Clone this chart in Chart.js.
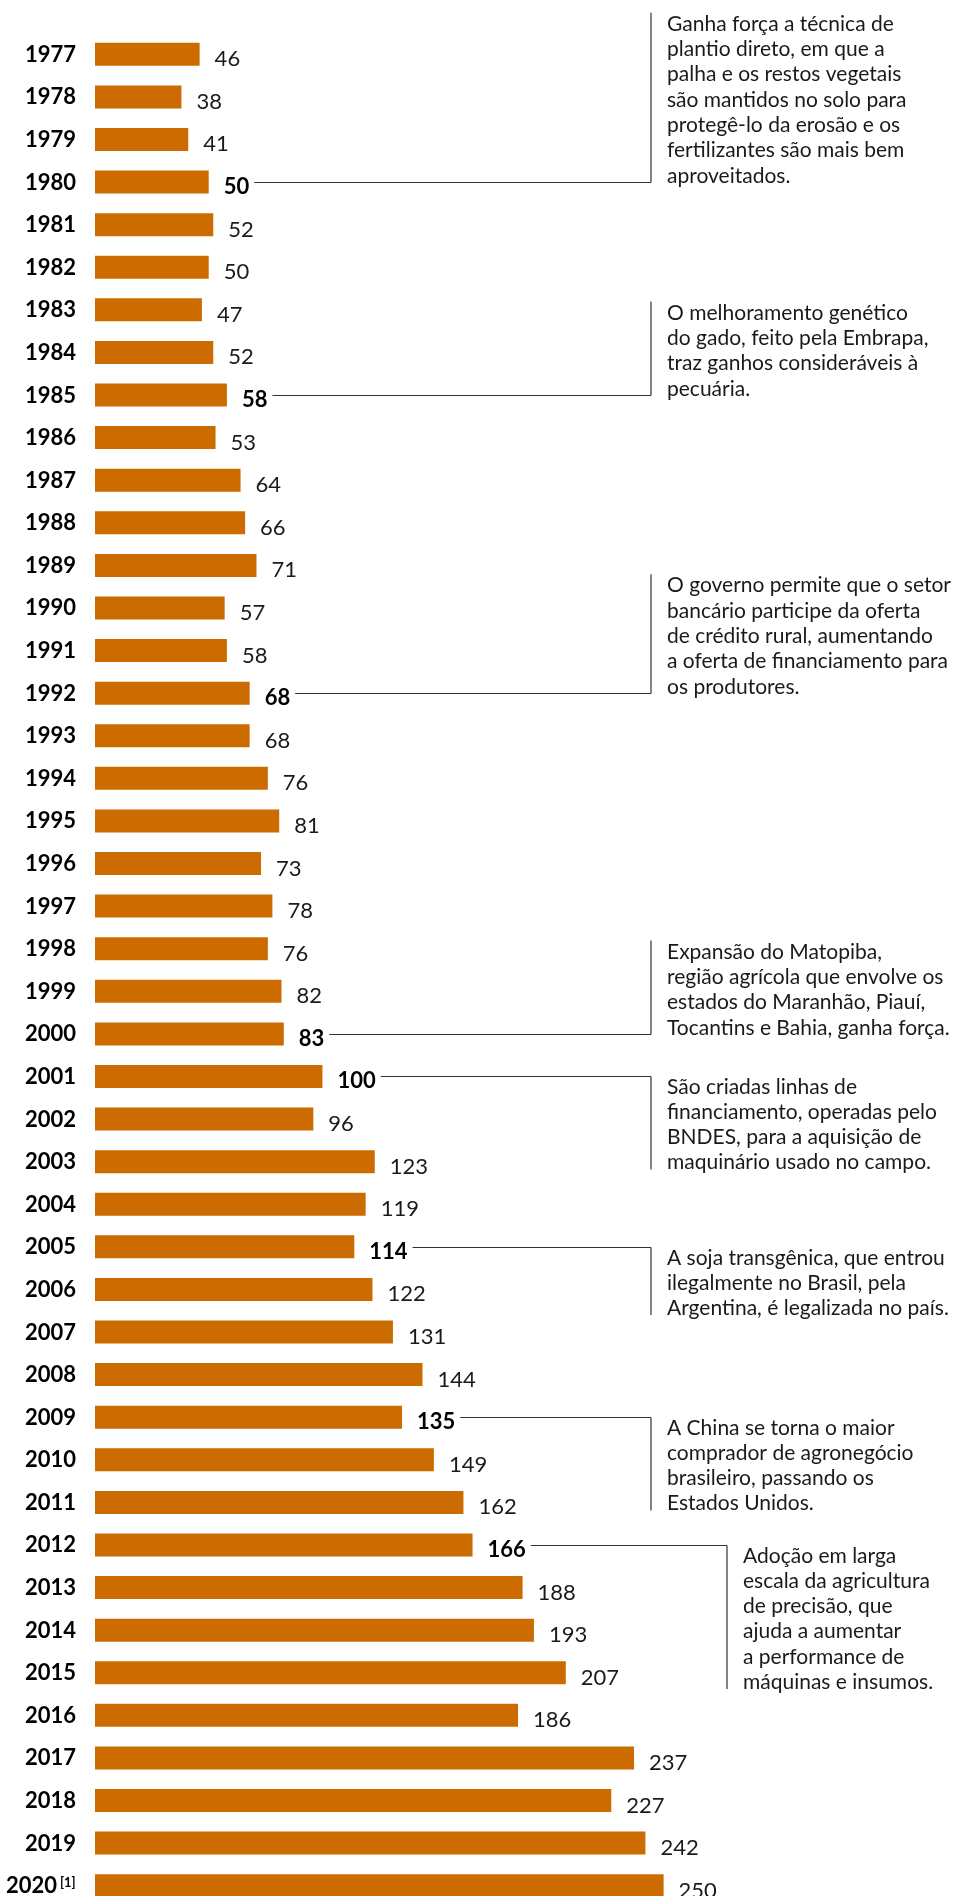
<!DOCTYPE html>
<html>
<head>
<meta charset="utf-8">
<script src="https://cdn.jsdelivr.net/npm/chart.js@4"></script>
<style>
  html, body { margin: 0; padding: 0; background: #fff; overflow: hidden; }
  #wrap { width: 957px; height: 1896px; overflow: hidden; position: relative; }
  canvas { display: block; }
</style>
</head>
<body>
<div id="wrap"><canvas id="grains" width="957" height="1907"></canvas></div>
<script>
const years = ['1977', '1978', '1979', '1980', '1981', '1982', '1983', '1984', '1985', '1986',
    '1987', '1988', '1989', '1990', '1991', '1992', '1993', '1994', '1995', '1996',
    '1997', '1998', '1999', '2000', '2001', '2002', '2003', '2004', '2005', '2006',
    '2007', '2008', '2009', '2010', '2011', '2012', '2013', '2014', '2015', '2016',
    '2017', '2018', '2019', '2020'];
const production = [46, 38, 41, 50, 52, 50, 47, 52, 58, 53,
    64, 66, 71, 57, 58, 68, 68, 76, 81, 73,
    78, 76, 82, 83, 100, 96, 123, 119, 114, 122,
    131, 144, 135, 149, 162, 166, 188, 193, 207, 186,
    237, 227, 242, 250];
const footnoteYear = '2020';
const footnoteMark = '[1]';

const noteYears = ['1980', '1985', '1992', '2000', '2001', '2005', '2009', '2012'];
const noteTexts = [
    ['Ganha força a técnica de', 'plantio direto, em que a', 'palha e os restos vegetais', 'são mantidos no solo para', 'protegê-lo da erosão e os', 'fertilizantes são mais bem', 'aproveitados.'],
    ['O melhoramento genético', 'do gado, feito pela Embrapa,', 'traz ganhos consideráveis à', 'pecuária.'],
    ['O governo permite que o setor', 'bancário participe da oferta', 'de crédito rural, aumentando', 'a oferta de financiamento para', 'os produtores.'],
    ['Expansão do Matopiba,', 'região agrícola que envolve os', 'estados do Maranhão, Piauí,', 'Tocantins e Bahia, ganha força.'],
    ['São criadas linhas de', 'financiamento, operadas pelo', 'BNDES, para a aquisição de', 'maquinário usado no campo.'],
    ['A soja transgênica, que entrou', 'ilegalmente no Brasil, pela', 'Argentina, é legalizada no país.'],
    ['A China se torna o maior', 'comprador de agronegócio', 'brasileiro, passando os', 'Estados Unidos.'],
    ['Adoção em larga', 'escala da agricultura', 'de precisão, que', 'ajuda a aumentar', 'a performance de', 'máquinas e insumos.']
];

// where each note sits: text above the leader line or below it, and the x of its bracket
const noteLayout = [
    { dir: 'up', vx: 651 }, { dir: 'up', vx: 651 }, { dir: 'up', vx: 651 }, { dir: 'up', vx: 651 },
    { dir: 'down', vx: 651 }, { dir: 'down', vx: 651 }, { dir: 'down', vx: 651 }, { dir: 'down', vx: 727 }
];

const labelsPlugin = {
    id: 'labels',
    afterDatasetsDraw(chart) {
        const ctx = chart.ctx;
        const bars = chart.getDatasetMeta(0).data;
        ctx.save();

        // year labels
        ctx.fillStyle = '#000';
        ctx.textAlign = 'right';
        ctx.textBaseline = 'alphabetic';
        bars.forEach((bar, i) => {
            if (years[i] === footnoteYear) {
                ctx.font = 'bold 22px Lato';
                ctx.fillText(years[i], 57, bar.y + 7.5);
                ctx.font = 'bold 13px Lato';
                ctx.textAlign = 'left';
                ctx.fillText(footnoteMark, 60, bar.y + 1.5);
                ctx.textAlign = 'right';
            } else {
                ctx.font = 'bold 22px Lato';
                ctx.fillText(years[i], 76, bar.y + 7.5);
            }
        });

        // value labels
        ctx.textAlign = 'left';
        bars.forEach((bar, i) => {
            const strong = noteYears.includes(years[i]);
            ctx.font = (strong ? 'bold ' : '') + '22px Lato';
            ctx.fillStyle = strong ? '#000' : '#1a1a1a';
            ctx.fillText(String(production[i]), bar.x + 15, bar.y + 12);
        });

        // notes with leader lines
        const lh = 25.3;
        noteYears.forEach((year, n) => {
            const i = years.indexOf(year);
            const bar = bars[i];
            const lay = noteLayout[n];
            const lines = noteTexts[n];
            ctx.font = 'bold 22px Lato';
            const w = ctx.measureText(String(production[i])).width;
            const x0 = bar.x + 15 + w + 5;
            const ly = Math.round(bar.y) + 0.5;
            let first, top, bottom;
            if (lay.dir === 'up') {
                first = ly - (lines.length - 1) * lh;
                top = first - 18;
                bottom = ly;
            } else {
                first = ly + 17;
                top = ly;
                bottom = first + (lines.length - 1) * lh;
            }
            ctx.strokeStyle = '#333';
            ctx.lineWidth = 1.2;
            ctx.beginPath();
            ctx.moveTo(x0, ly);
            ctx.lineTo(lay.vx, ly);
            ctx.moveTo(lay.vx, top);
            ctx.lineTo(lay.vx, bottom);
            ctx.stroke();

            ctx.font = '21px Lato';
            ctx.fillStyle = '#1a1a1a';
            lines.forEach((t, k) => {
                ctx.fillText(t, lay.vx + 16, first + k * lh);
            });
        });
        ctx.restore();
    }
};

function draw() {
    const ctx = document.getElementById('grains').getContext('2d');
    new Chart(ctx, {
        type: 'bar',
        data: {
            labels: years,
            datasets: [{
                data: production,
                backgroundColor: '#cc6c00',
                borderWidth: 0,
                barPercentage: 0.54,
                categoryPercentage: 1
            }]
        },
        options: {
            indexAxis: 'y',
            responsive: false,
            animation: false,
            devicePixelRatio: 1,
            layout: {
                padding: { left: 95, right: 0, top: 33, bottom: 0 }
            },
            scales: {
                x: { display: false, min: 0, max: 379 },
                y: { display: false }
            },
            plugins: {
                legend: { display: false },
                tooltip: { enabled: false }
            }
        },
        plugins: [labelsPlugin]
    });
}

Promise.all([
    document.fonts.load('22px Lato'),
    document.fonts.load('bold 22px Lato')
]).then(draw, draw);
</script>
</body>
</html>
